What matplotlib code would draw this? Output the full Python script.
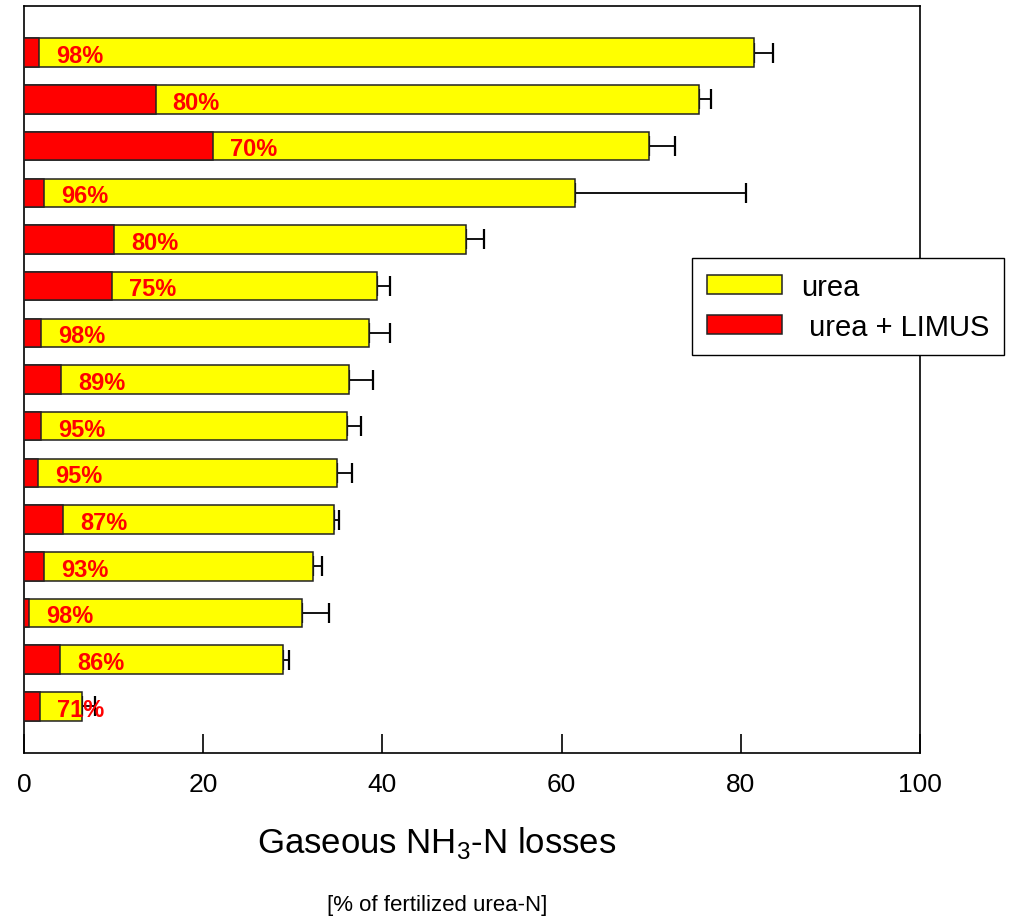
#!/usr/bin/env python3
"""Gaseous NH3-N losses: urea vs urea + LIMUS (horizontal bars)."""

import matplotlib
matplotlib.use('Agg')
import matplotlib.pyplot as plt
import numpy as np

plt.rcParams['font.family'] = ['Liberation Sans', 'DejaVu Sans']

# top bar first
urea = [81.5, 75.3, 69.7, 61.5, 49.3, 39.4, 38.5, 36.3, 36.0, 34.9, 34.6, 32.2, 31.0, 28.9, 6.5]
urea_err = [2.1, 1.4, 2.9, 19.1, 2.0, 1.5, 2.3, 2.7, 1.6, 1.7, 0.6, 1.1, 3.0, 0.7, 1.4]
limus = [1.7, 14.7, 21.1, 2.2, 10.1, 9.8, 1.9, 4.1, 1.9, 1.6, 4.4, 2.2, 0.6, 4.0, 1.8]
reduction = ['98%', '80%', '70%', '96%', '80%', '75%', '98%', '89%', '95%', '95%',
             '87%', '93%', '98%', '86%', '71%']
xticks = [0, 20, 40, 60, 80, 100]

fig = plt.figure(figsize=(10.21, 9.20), dpi=100)
ax = fig.add_axes([0.0235, 0.1804, 0.8776, 0.812])

y = np.arange(len(urea))[::-1]
bh = 0.61

ax.barh(y, urea, height=bh, color='#FFFF00', edgecolor='#222222', linewidth=1.1,
        label='urea', zorder=2)
ax.errorbar(urea, y, xerr=[np.zeros(len(urea)), urea_err], fmt='none',
            ecolor='black', elinewidth=1.3, capsize=7, capthick=1.6, zorder=1)
ax.barh(y, limus, height=bh, color='#FF0000', edgecolor='#222222', linewidth=1.1,
        label=' urea + LIMUS', zorder=3)

for yi, r, txt in zip(y, limus, reduction):
    ax.text(r + 1.9, yi - 0.06, txt, color='#FF0000', fontsize=17, fontweight='bold',
            ha='left', va='center', zorder=5)

ax.set_xlim(0, 100)
ax.set_ylim(-1, len(urea))
ax.set_yticks([])
ax.set_xticks(xticks)
ax.tick_params(axis='x', direction='in', length=14, width=1.2, labelsize=19, pad=14)
for s in ax.spines.values():
    s.set_linewidth(1.2)

leg = ax.legend(loc='upper left', bbox_to_anchor=(692 / 1021, 1 - 259 / 920),
                bbox_transform=fig.transFigure, fontsize=21, frameon=True,
                fancybox=False, framealpha=1, edgecolor='black', handlelength=2.6,
                handleheight=0.65, borderpad=0.5, labelspacing=0.42,
                handletextpad=0.65, borderaxespad=0)
leg.get_frame().set_linewidth(1.0)

fig.text(437 / 1021, 1 - 843 / 920, r'Gaseous NH$_\mathregular{3}$-N losses',
         fontsize=25, ha='center', va='center')
fig.text(437 / 1021, 1 - 906 / 920, '[% of fertilized urea-N]',
         fontsize=16, ha='center', va='center')

fig.savefig('out.png', dpi=100)
